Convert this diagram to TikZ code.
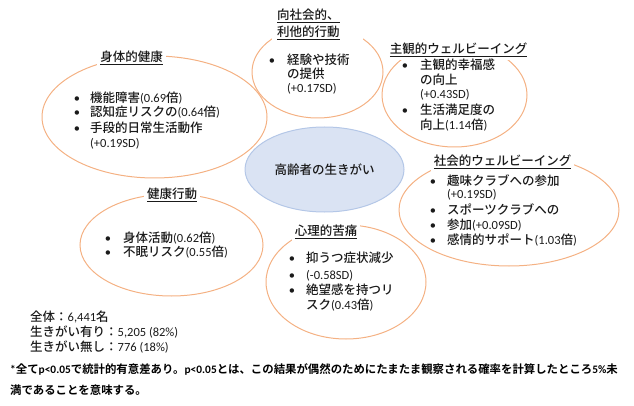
\documentclass[tikz,border=0pt]{standalone}
\usepackage{fontspec}
\setmainfont{Noto Sans CJK JP Medium}[BoldFont={Noto Sans CJK JP Bold}]
\newfontfamily\lat{Carlito}
\newcommand\E[1]{{\lat #1}}
\usetikzlibrary{shapes.geometric}
\definecolor{orng}{HTML}{F4B183}
\definecolor{cfill}{HTML}{DAE3F3}
\definecolor{cdraw}{HTML}{B4C7E7}
\definecolor{ink}{HTML}{1A1A1A}
\begin{document}
\begin{tikzpicture}[x=1pt,y=-1pt,
  ell/.style={ellipse, draw=orng, line width=1pt, inner sep=0pt},
  ttl/.style={anchor=base, fill=white, inner sep=3pt, text=ink, font=\fontsize{12.5}{15}\selectfont},
  ttlw/.style={anchor=base west, fill=white, inner xsep=5pt, inner ysep=3pt, text width=81pt, align=left, text=ink, font=\fontsize{12.5}{15}\selectfont},
  txt/.style={anchor=base west, inner sep=0pt, text=ink, font=\fontsize{12.5}{15}\selectfont},
  bul/.style={anchor=base, inner sep=0pt, text=ink, font=\fontsize{12.5}{15}\selectfont},
  note/.style={anchor=base west, inner sep=0pt, text=black, font=\fontsize{11.4}{14}\selectfont\bfseries}]
\useasboundingbox (0,0) rectangle (634,406);

% ellipses
\node[ell, minimum width=225pt, minimum height=122pt] (body) at (154.5,117) {};
\node[ell, minimum width=131pt, minimum height=92pt] (pro) at (317.5,72) {};
\node[ell, minimum width=145pt, minimum height=104pt] (subj) at (454.5,95) {};
\node[ell, minimum width=220pt, minimum height=112pt] (soc) at (509,210) {};
\node[ell, minimum width=160pt, minimum height=114pt] (psy) at (346,282) {};
\node[ell, minimum width=183pt, minimum height=102pt] (beh) at (171.5,245) {};
\node[ellipse, fill=cfill, draw=cdraw, line width=1pt, minimum width=159pt, minimum height=85pt, inner sep=0pt,
      text=ink, font=\fontsize{12.5}{15}\selectfont] (core) at (324.5,169.5) {高齢者の生きがい};

% titles
\node[ttl] (tbody) at (131.5,61.5) {\underline{身体的健康}};
\node[ttlw] (tpro1) at (272,19.5) {\underline{向社会的、}};
\node[ttlw] (tpro2) at (272,36.5) {\underline{利他的行動}};
\node[ttl] (tsubj) at (458.5,53.5) {\underline{主観的ウェルビーイング}};
\node[ttl] (tsoc) at (502.5,165.5) {\underline{社会的ウェルビーイング}};
\node[ttl] (tpsy) at (326,235.5) {\underline{心理的苦痛}};
\node[ttl] (tbeh) at (172,198.5) {\underline{健康行動}};

% body health items
\node[bul] (bb1) at (77,102.5) {\E{•}};
\node[txt] (ib1) at (90,102.5) {機能障害\E{(0.69}倍\E{)}};
\node[bul] (bb2) at (77,117) {\E{•}};
\node[txt] (ib2) at (90,117) {認知症リスクの\E{(0.64}倍\E{)}};
\node[bul] (bb3) at (77,132.5) {\E{•}};
\node[txt] (ib3) at (90,132.5) {手段的日常生活動作};
\node[txt] (ib4) at (90,147.5) {\E{(+0.19SD)}};

% prosocial items
\node[bul] (bp1) at (272,64.5) {\E{•}};
\node[txt] (ip1) at (287,64.5) {経験や技術};
\node[txt] (ip2) at (287,78.5) {の提供};
\node[txt] (ip3) at (287,93) {\E{(+0.17SD)}};

% subjective items
\node[bul] (bs1) at (405,69.5) {\E{•}};
\node[txt] (is1) at (420,69.5) {主観的幸福感};
\node[txt] (is2) at (420,84.5) {の向上};
\node[txt] (is3) at (420,99) {\E{(+0.43SD)}};
\node[bul] (bs4) at (405,114.5) {\E{•}};
\node[txt] (is4) at (420,114.5) {生活満足度の};
\node[txt] (is5) at (420,129.5) {向上\E{(1.14}倍\E{)}};

% social items
\node[bul] (bc1) at (433,185.5) {\E{•}};
\node[txt] (ic1) at (447,185.5) {趣味クラブへの参加};
\node[txt] (ic2) at (447,198.5) {\E{(+0.19SD)}};
\node[bul] (bc3) at (433,214.5) {\E{•}};
\node[txt] (ic3) at (447,214.5) {スポーツクラブへの};
\node[bul] (bc4) at (433,229.5) {\E{•}};
\node[txt] (ic4) at (447,229.5) {参加\E{(+0.09SD)}};
\node[bul] (bc5) at (433,244.5) {\E{•}};
\node[txt] (ic5) at (447,244.5) {感情的サポート\E{(1.03}倍\E{)}};

% psychological items
\node[bul] (bq1) at (292,262.5) {\E{•}};
\node[txt] (iq1) at (306,262.5) {抑うつ症状減少};
\node[bul] (bq2) at (292,279.5) {\E{•}};
\node[txt] (iq2) at (306,279.5) {\E{(-0.58SD)}};
\node[bul] (bq3) at (292,294.5) {\E{•}};
\node[txt] (iq3) at (306,294.5) {絶望感を持つリ};
\node[txt] (iq4) at (306,309.5) {スク\E{(0.43}倍\E{)}};

% health behaviour items
\node[bul] (bh1) at (108,242.5) {\E{•}};
\node[txt] (ih1) at (123,242.5) {身体活動\E{(0.62}倍\E{)}};
\node[bul] (bh2) at (108,256.5) {\E{•}};
\node[txt] (ih2) at (123,256.5) {不眠リスク\E{(0.55}倍\E{)}};

% stats
\node[txt] (s1) at (30,321.5) {全体：\E{6,441}名};
\node[txt] (s2) at (30,336.5) {生きがい有り：\E{5,205 (82\%)}};
\node[txt] (s3) at (30,351.5) {生きがい無し：\E{776 (18\%)}};

% footnote
\node[note] (n1) at (10,373) {\E{\bfseries *}全て\E{\bfseries p<0.05}で統計的有意差あり。\E{\bfseries p<0.05}とは、この結果が偶然のためにたまたま観察される確率を計算したところ\E{\bfseries 5\%}未};
\node[note] (n2) at (10,394) {満であることを意味する。};
\end{tikzpicture}
\end{document}
